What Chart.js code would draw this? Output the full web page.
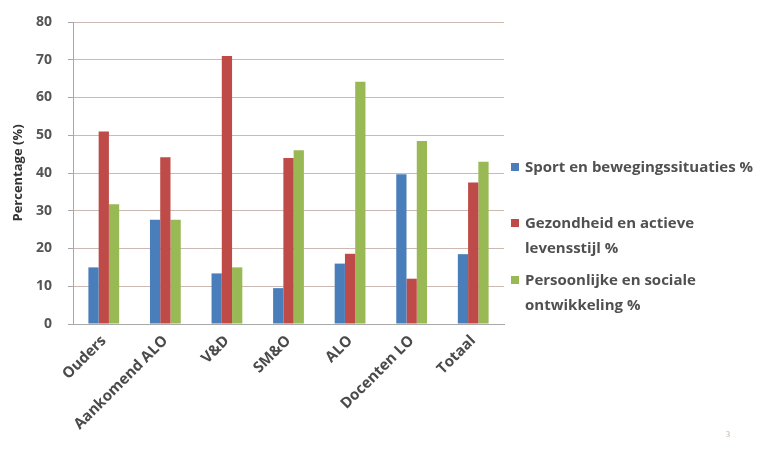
<!DOCTYPE html>
<html>
<head>
<meta charset="utf-8">
<script src="https://cdn.jsdelivr.net/npm/chart.js@4.4.1/dist/chart.umd.min.js"></script>
<style>
  body { margin: 0; background: #fff; }
  #wrap { position: relative; width: 780px; height: 451px; overflow: hidden; }
  #legend { position: absolute; left: 511px; top: 0; font-family: "Open Sans", sans-serif; font-weight: bold; font-size: 15px; color: #505050; }
  .item { position: absolute; left: 0; white-space: nowrap; line-height: 25px; }
  .box { display: inline-block; width: 8px; height: 8px; margin-right: 6px; vertical-align: 1px; }
  .line2 { padding-left: 14px; }
  #page { position: absolute; left: 726px; top: 430px; font-family: "Liberation Serif", serif; font-size: 8px; color: #b8a89a; }
</style>
</head>
<body>
<div id="wrap">
  <canvas id="myChart" width="780" height="451"></canvas>
  <div id="legend"></div>
  <div id="page">3</div>
</div>
<script>
    let categories = ['Ouders', 'Aankomend ALO', 'V&D', 'SM&O', 'ALO', 'Docenten LO', 'Totaal'];
    let sportValues = [15, 27.6, 13.4, 9.5, 16, 39.7, 18.5];
    let gezondheidValues = [51, 44.2, 71, 44, 18.6, 12, 37.5];
    let persoonlijkValues = [31.7, 27.6, 15, 46, 64.2, 48.5, 43];
    let seriesNames = [
        ['Sport en bewegingssituaties %'],
        ['Gezondheid en actieve', 'levensstijl %'],
        ['Persoonlijke en sociale', 'ontwikkeling %']
    ];
    let colorHex = ['#4a7ebb', '#be4b48', '#98b954'];
    let yTicks = [0, 10, 20, 30, 40, 50, 60, 70, 80];

    let ctx = document.getElementById('myChart').getContext('2d');
    let tickFont = { family: 'Open Sans', weight: 'bold', size: 14 };

    let myChart = new Chart(ctx, {
    type: 'bar',
    data: {
        labels: categories,
        datasets: [
            { label: seriesNames[0].join(' '), data: sportValues, backgroundColor: colorHex[0] },
            { label: seriesNames[1].join(' '), data: gezondheidValues, backgroundColor: colorHex[1] },
            { label: seriesNames[2].join(' '), data: persoonlijkValues, backgroundColor: colorHex[2] }
        ]
    },
    options: {
        responsive: false,
        animation: false,
        layout: { padding: { top: 22, right: 276, left: 6, bottom: 0 } },
        datasets: { bar: { categoryPercentage: 0.5, barPercentage: 1 } },
        plugins: {
            legend: { display: false },
            tooltip: { enabled: false }
        },
        scales: {
            x: {
                grid: { display: false },
                border: { color: '#a8a8a8' },
                ticks: { color: '#4a4a4a', font: { family: 'Open Sans', weight: 'bold', size: 15 }, minRotation: 45, maxRotation: 45, padding: 0 },
                afterFit: function(scale) { scale.height = 127; scale.paddingLeft = 0; scale.paddingRight = 0; }
            },
            y: {
                min: 0,
                max: 80,
                afterBuildTicks: function(scale) { scale.ticks = yTicks.map(v => ({ value: v })); },
                grid: { color: '#cbbab3', tickLength: 5, tickColor: '#a8a8a8' },
                border: { color: '#a8a8a8' },
                ticks: { color: '#555555', font: tickFont, padding: 16 },
                title: { display: true, text: 'Percentage (%)', color: '#333333', font: { family: 'Open Sans', weight: 'bold', size: 13 }, padding: { top: 4, bottom: 0 } },
                afterFit: function(scale) { scale.width = 67; scale.paddingTop = 0; scale.paddingBottom = 0; }
            }
        }
    }
    });

    // legend on the right, built from the series names
    let legend = document.getElementById('legend');
    let tops = [154, 210, 267];
    seriesNames.forEach(function(lines, i){
        let div = document.createElement('div');
        div.className = 'item';
        div.style.top = tops[i] + 'px';
        let html = '<span class="box" style="background:' + colorHex[i] + '"></span>' + lines[0];
        if (lines[1]) html += '<div class="line2">' + lines[1] + '</div>';
        div.innerHTML = html;
        legend.appendChild(div);
    });
</script>
</body>
</html>
